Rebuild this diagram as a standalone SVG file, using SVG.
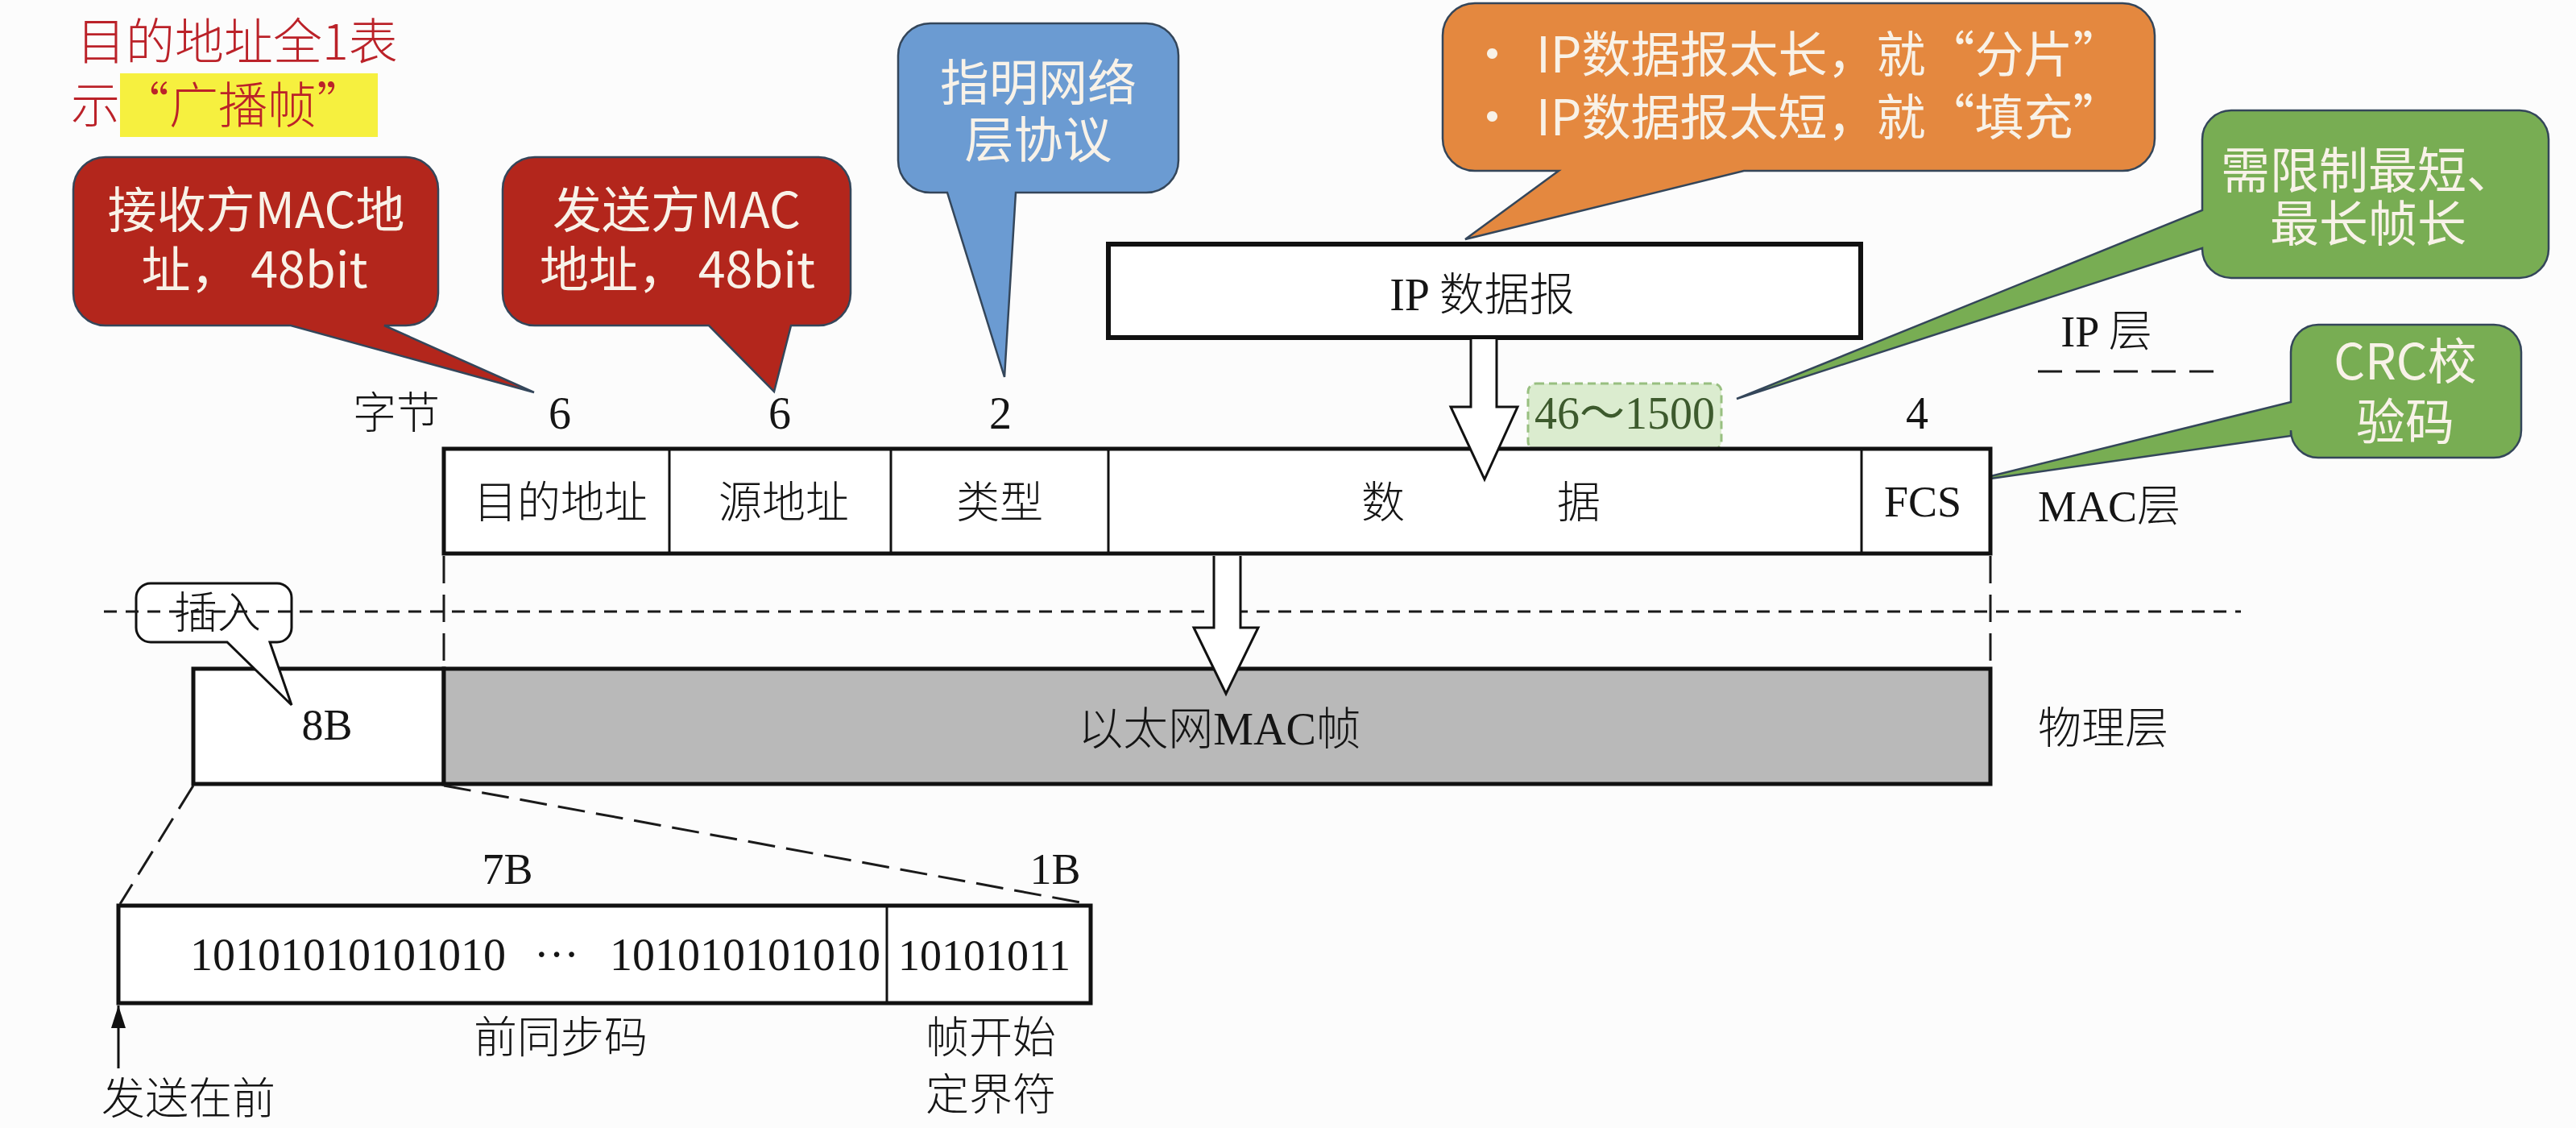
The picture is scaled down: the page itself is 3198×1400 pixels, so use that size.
<svg xmlns="http://www.w3.org/2000/svg" width="3198" height="1400" viewBox="0 0 3198 1400">
<defs>
<style>
.bg{fill:#fcfcfc}
.s{font-family:"Liberation Serif","Noto Sans CJK SC",serif;fill:#151515;font-weight:300}
.f54{font-size:54px}
.f56{font-size:56px}
.c{font-family:"Noto Sans CJK SC","Liberation Sans",sans-serif;font-size:61px;fill:#f8f2e8}
.m{text-anchor:middle}
.box{fill:#fff;stroke:#111;stroke-width:5}
.gray{fill:#b9b9b9;stroke:#111;stroke-width:5}
.sep{stroke:#111;stroke-width:3}
.dash{fill:none;stroke:#1a1a1a;stroke-width:3}
.co{stroke:#34465a;stroke-width:2.5}
.harrow{fill:#fff;stroke:#111;stroke-width:3}
.red{fill:#b3261c}
</style>
<marker id="ah" viewBox="0 0 28 18" refX="28" refY="9" markerWidth="28" markerHeight="18" markerUnits="userSpaceOnUse" orient="auto">
<path d="M0,0 L28,9 L0,18 z" fill="#111"/>
</marker>
</defs>
<rect class="bg" x="0" y="0" width="3198" height="1400"/>

<g id="title">
<text x="95" y="74" font-family="Noto Sans CJK SC, sans-serif" font-size="61" font-weight="300" fill="#bb2229">目的地址全1表</text>
<rect x="149" y="91" width="320" height="79" fill="#f6f03f"/>
<text x="88" y="153" font-family="Noto Sans CJK SC, sans-serif" font-size="61" font-weight="300" fill="#bb2229">示“广播帧”</text>
</g>

<g id="callout-dst">
<path class="red co" d="M131,195 H504 A40,40 0 0 1 544,235 V364 A40,40 0 0 1 504,404 H477 L663,487 L361,404 H131 A40,40 0 0 1 91,364 V235 A40,40 0 0 1 131,195 Z"/>
<text class="c m" x="318" y="283">接收方MAC地</text>
<text class="c m" x="316" y="357">址， 48bit</text>
</g>

<g id="callout-src">
<path class="red co" d="M664,195 H1016 A40,40 0 0 1 1056,235 V364 A40,40 0 0 1 1016,404 H982 L961,486 L880,404 H664 A40,40 0 0 1 624,364 V235 A40,40 0 0 1 664,195 Z"/>
<text class="c m" x="840" y="283">发送方MAC</text>
<text class="c m" x="841" y="357">地址， 48bit</text>
</g>

<g id="callout-type">
<path class="co" fill="#6b9bd2" d="M1155,29 H1423 A40,40 0 0 1 1463,69 V199 A40,40 0 0 1 1423,239 H1261 L1247,468 L1176,239 H1155 A40,40 0 0 1 1115,199 V69 A40,40 0 0 1 1155,29 Z"/>
<text class="c m" x="1289" y="125">指明网络</text>
<text class="c m" x="1289" y="196">层协议</text>
</g>

<g id="callout-ip">
<path class="co" fill="#e4883f" d="M1831,4 H2635 A40,40 0 0 1 2675,44 V172 A40,40 0 0 1 2635,212 H2165 L1819,297 L1935,212 H1831 A40,40 0 0 1 1791,172 V44 A40,40 0 0 1 1831,4 Z"/>
<text class="c" x="1822" y="90">•</text>
<text class="c" x="1907" y="90">IP数据报太长，就“分片”</text>
<text class="c" x="1822" y="168">•</text>
<text class="c" x="1907" y="168">IP数据报太短，就“填充”</text>
</g>

<g id="callout-len">
<path class="co" fill="#78ad53" d="M2770,137 H3128 A36,36 0 0 1 3164,173 V309 A36,36 0 0 1 3128,345 H2770 A36,36 0 0 1 2734,309 V308 L2156,495 L2734,261 V173 A36,36 0 0 1 2770,137 Z"/>
<text class="c m" x="2940" y="234">需限制最短、</text>
<text class="c m" x="2940" y="300">最长帧长</text>
</g>

<g id="callout-crc">
<path class="co" fill="#78ad53" d="M2878,403 H3096 A34,34 0 0 1 3130,437 V534 A34,34 0 0 1 3096,568 H2878 A34,34 0 0 1 2844,534 V541 L2443,598 L2844,499 V437 A34,34 0 0 1 2878,403 Z"/>
<text class="c m" x="2986" y="471">CRC校</text>
<text class="c m" x="2986" y="546">验码</text>
</g>

<g id="ip-datagram">
<rect x="1376" y="303" width="934" height="116" fill="#fff" stroke="#111" stroke-width="6"/>
<text class="s f56 m" x="1840" y="385">IP 数据报</text>
</g>

<g id="len-label">
<rect x="1897" y="476" width="240" height="82" rx="10" fill="#dbeccf" stroke="#98bf80" stroke-width="3" stroke-dasharray="10 6"/>
<text class="m" x="2017" y="532" font-family="Liberation Serif, Noto Sans CJK SC, serif" font-size="56" fill="#3d5a2d">46～1500</text>
</g>

<g id="mac-frame">
<rect class="box" x="551" y="557" width="1920" height="130"/>
<line class="sep" x1="831" y1="557" x2="831" y2="687"/>
<line class="sep" x1="1106" y1="557" x2="1106" y2="687"/>
<line class="sep" x1="1376" y1="557" x2="1376" y2="687"/>
<line class="sep" x1="2311" y1="557" x2="2311" y2="687"/>
<text class="s f54 m" x="696" y="643">目的地址</text>
<text class="s f54 m" x="973" y="643">源地址</text>
<text class="s f54 m" x="1241" y="643">类型</text>
<text class="s f54 m" x="1717" y="643">数</text>
<text class="s f54 m" x="1960" y="643">据</text>
<text class="s f54 m" x="2387" y="641">FCS</text>
</g>

<g id="byte-counts">
<text class="s f54" x="438" y="532">字节</text>
<text class="s f56 m" x="695" y="532">6</text>
<text class="s f56 m" x="968" y="532">6</text>
<text class="s f56 m" x="1242" y="532">2</text>
<text class="s f56 m" x="2380" y="532">4</text>
</g>

<g id="layer-labels">
<text class="s f54 m" x="2615" y="430">IP 层</text>
<text class="s f54" x="2530" y="647">MAC层</text>
<text class="s f54" x="2530" y="923">物理层</text>
</g>

<g id="phy-frame">
<rect class="box" x="240" y="830" width="311" height="143"/>
<rect class="gray" x="551" y="830" width="1920" height="143"/>
<text class="s f54 m" x="406" y="918">8B</text>
<text class="s f56 m" x="1514" y="924">以太网MAC帧</text>
</g>

<g id="callout-insert">
<path d="M187,724 H344 A18,18 0 0 1 362,742 V779 A18,18 0 0 1 344,797 H335 L362,875 L282,797 H187 A18,18 0 0 1 169,779 V742 A18,18 0 0 1 187,724 Z" fill="#fff" stroke="#111" stroke-width="3"/>
<text class="s f54 m" x="270" y="780">插入</text>
</g>

<g id="preamble">
<rect class="box" x="147" y="1124" width="1207" height="121"/>
<line class="sep" x1="1101" y1="1124" x2="1101" y2="1245"/>
<text class="s f56" x="236" y="1204">10101010101010</text>
<text class="s f56 m" x="691" y="1204">···</text>
<text class="s f56" x="757" y="1204">101010101010</text>
<text class="s f54 m" x="1222" y="1204">10101011</text>
<text class="s f54 m" x="630" y="1097">7B</text>
<text class="s f54 m" x="1310" y="1097">1B</text>
<text class="s f54 m" x="696" y="1307">前同步码</text>
<text class="s f54 m" x="1230" y="1307">帧开始</text>
<text class="s f54 m" x="1230" y="1378">定界符</text>
<text class="s f54" x="126" y="1383">发送在前</text>
</g>

<g id="connectors">
<line class="dash" x1="129" y1="759" x2="2782" y2="759" stroke-dasharray="16 11"/>
<line class="dash" x1="2530" y1="461" x2="2764" y2="461" stroke-width="4" stroke-dasharray="30 17"/>
<line class="dash" x1="551" y1="690" x2="551" y2="828" stroke-dasharray="34 14"/>
<line class="dash" x1="2471" y1="690" x2="2471" y2="828" stroke-dasharray="34 14"/>
<line class="dash" x1="240" y1="975" x2="149" y2="1122" stroke-dasharray="34 14"/>
<line class="dash" x1="551" y1="975" x2="1352" y2="1122" stroke-dasharray="34 14"/>
<path class="harrow" d="M1826,421 V505 H1801 L1843,595 L1884,505 H1858 V421"/>
<path class="harrow" d="M1507,690 V779 H1482 L1522,861 L1562,779 H1540 V690"/>
<line x1="147" y1="1326" x2="147" y2="1248" stroke="#111" stroke-width="3" marker-end="url(#ah)"/>
</g>
</svg>
